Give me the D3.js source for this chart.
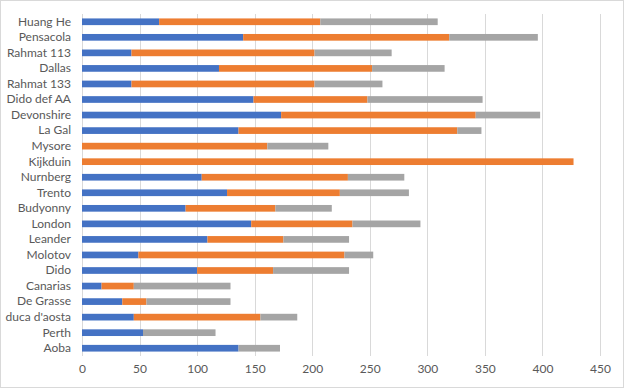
<!DOCTYPE html>
<html>
<head>
<meta charset="utf-8">
<script src="https://cdn.jsdelivr.net/npm/d3@7"></script>
<style>
  body { margin: 0; background: #fff; }
  text { font-family: Lato, "Open Sans", sans-serif; fill: #595959; }
</style>
</head>
<body>
<svg width="624" height="388"></svg>
<script>
// ships, top to bottom as drawn
const ships = [
  "Huang He", "Pensacola", "Rahmat 113", "Dallas", "Rahmat 133", "Dido def AA",
  "Devonshire", "La Gal", "Mysore", "Kijkduin", "Nurnberg", "Trento",
  "Budyonny", "London", "Leander", "Molotov", "Dido", "Canarias",
  "De Grasse", "duca d'aosta", "Perth", "Aoba"
];
const blue   = [67, 140, 43, 119, 43, 149, 173, 136, 0, 0, 104, 126, 90, 147, 109, 49, 100, 17, 35, 45, 53, 136];
const orange = [140, 179, 159, 133, 159, 99, 169, 190, 161, 427, 127, 98, 78, 88, 66, 179, 66, 28, 21, 110, 0, 0];
const gray   = [102, 77, 67, 63, 59, 100, 56, 21, 53, 0, 49, 60, 49, 59, 57, 25, 66, 84, 73, 32, 63, 36];
const xTicks = [0, 50, 100, 150, 200, 250, 300, 350, 400, 450];
const colors = ["#4472C4", "#ED7D31", "#A5A5A5"];

const svg = d3.select("svg");
svg.append("rect")
  .attr("x", 0.5).attr("y", 0.5)
  .attr("width", 623).attr("height", 387)
  .attr("fill", "#fff").attr("stroke", "#D9D9D9");

const margin = { top: 14, right: 24, bottom: 32, left: 82 },
  width = 624 - margin.left - margin.right,
  height = 388 - margin.top - margin.bottom;

const x = d3.scaleLinear().domain([0, 450]).range([0, 518]);
const y = d3.scaleBand().domain(ships).range([0, 342]).paddingInner(0.57).paddingOuter(0.285);

const g = svg.append("g").attr("transform", `translate(${margin.left},${margin.top})`);

g.append("g")
  .selectAll("line")
  .data(xTicks)
  .join("line")
  .attr("x1", d => Math.round(x(d)) + 0.5)
  .attr("x2", d => Math.round(x(d)) + 0.5)
  .attr("y1", 0).attr("y2", 342)
  .attr("stroke", "#D9D9D9");

const rows = ships.map((s, i) => ({ ship: s, vals: [blue[i], orange[i], gray[i]] }));
const stack = d3.stack().keys([0, 1, 2]).value((d, k) => d.vals[k]);
const layers = stack(rows);

g.selectAll(".layer")
  .data(layers)
  .join("g")
  .attr("class", "layer")
  .attr("fill", (d, i) => colors[i])
  .selectAll("rect")
  .data(d => d)
  .join("rect")
  .attr("x", d => x(d[0]))
  .attr("width", d => x(d[1]) - x(d[0]))
  .attr("y", d => y(d.data.ship))
  .attr("height", y.bandwidth());

const xAxis = g.append("g")
  .attr("transform", `translate(0,342)`)
  .call(d3.axisBottom(x).tickValues(xTicks).tickSize(0).tickPadding(8));
xAxis.select(".domain").remove();
xAxis.selectAll("text").style("font-size", "12px").attr("fill", "#595959");

const yAxis = g.append("g")
  .call(d3.axisLeft(y).tickSize(0).tickPadding(11));
yAxis.select(".domain").remove();
yAxis.selectAll("text").style("font-size", "12px").attr("fill", "#595959");
</script>
</body>
</html>
